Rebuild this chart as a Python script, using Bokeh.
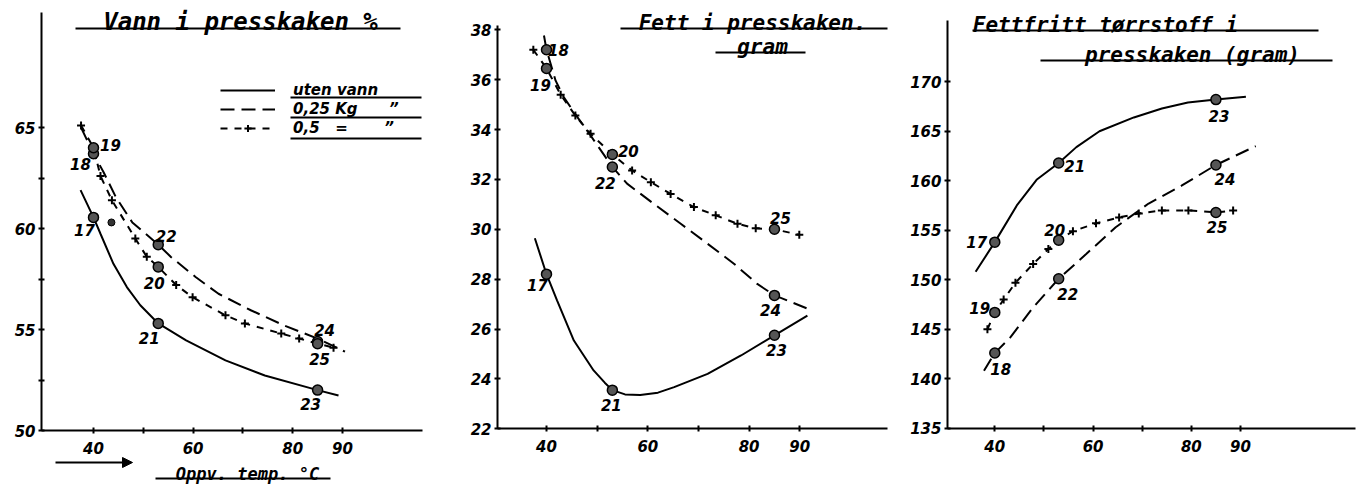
from bokeh.plotting import figure
from bokeh.layouts import row
from bokeh.models import (FixedTicker, Range1d, Label, Arrow, NormalHead,
                          Legend, LegendItem, ColumnDataSource)
from bokeh.core.properties import value
from bokeh.embed import file_html
from bokeh.resources import INLINE

FONT = "DejaVu Sans"
TFONT = "DejaVu Sans Mono"

# ---------------- data ----------------
temps = [40, 53, 85]
labels_uten = ["17", "21", "23"]
labels_025 = ["18", "22", "24"]
labels_05 = ["19", "20", "25"]

x_ticks = [40, 60, 80, 90]
x_minor = [50, 70]

# Panel 1: Vann i presskaken %
vann_uten = [60.55, 55.3, 52.0]
vann_025 = [63.7, 59.2, 54.4]
vann_05 = [64.0, 58.1, 54.3]
vann_extra_x = [43.6]
vann_extra_y = [60.3]
vann_uten_cx = [37.4, 40, 41.4, 44.0, 46.7, 49.4, 53, 58.6, 66.5, 74.4, 85, 89.2]
vann_uten_cy = [61.9, 60.55, 59.74, 58.25, 57.1, 56.2, 55.3, 54.46, 53.47, 52.72, 52.0, 51.73]
vann_025_cx = [37.5, 40, 42.0, 44.5, 47.8, 53, 55.6, 60.5, 65.1, 71.7, 78.3, 85, 90.5]
vann_025_cy = [65.0, 63.7, 62.8, 61.55, 60.3, 59.2, 58.58, 57.6, 56.77, 55.94, 55.2, 54.55, 53.9]
vann_05_cx = [37.5, 40, 41.4, 43.7, 48.4, 50.7, 53, 56.6, 59.9, 66.5, 70.4, 77.7, 81.3, 85, 88.2]
vann_05_cy = [65.1, 64.0, 62.6, 61.4, 59.5, 58.6, 58.1, 57.2, 56.6, 55.7, 55.3, 54.8, 54.55, 54.3, 54.1]
vann_yticks = [50, 55, 60, 65]
vann_yminor = [52.5, 57.5, 62.5]

# Panel 2: Fett i presskaken, gram
fett_uten = [28.2, 23.55, 25.75]
fett_025 = [37.2, 32.5, 27.35]
fett_05 = [36.45, 33.0, 30.0]
fett_uten_cx = [37.7, 40, 42.1, 45.4, 49.3, 51.5, 53, 55.5, 58.5, 62.0, 65.2, 71.8, 78.4, 85, 91.5]
fett_uten_cy = [29.64, 28.2, 27.14, 25.54, 24.34, 23.85, 23.55, 23.38, 23.36, 23.45, 23.67, 24.2, 24.94, 25.75, 26.54]
fett_025_cx = [39.5, 40, 41.8, 43.4, 46.1, 48.7, 53, 55.9, 61.2, 66.5, 71.8, 77.0, 81.6, 85, 92.5]
fett_025_cy = [37.77, 37.2, 35.96, 35.3, 34.5, 33.76, 32.5, 31.83, 31.02, 30.22, 29.42, 28.62, 27.81, 27.35, 26.74]
fett_05_cx = [37.4, 40, 42.8, 45.7, 48.7, 53, 56.9, 60.6, 64.5, 69.1, 73.4, 77.7, 81.3, 85, 89.9]
fett_05_cy = [37.2, 36.45, 35.4, 34.56, 33.83, 33.0, 32.36, 31.89, 31.42, 30.89, 30.56, 30.22, 30.04, 30.0, 29.78]
fett_yticks = [22, 24, 26, 28, 30, 32, 34, 36, 38]

# Panel 3: Fettfritt tørrstoff i presskaken (gram)
ff_uten = [153.8, 161.8, 168.2]
ff_025 = [142.6, 150.1, 161.6]
ff_05 = [146.7, 154.0, 156.8]
ff_uten_cx = [36.1, 40, 44.6, 48.5, 53, 56.6, 61.3, 68.3, 74.0, 79.3, 85, 91.1]
ff_uten_cy = [150.8, 153.8, 157.6, 160.1, 161.8, 163.4, 165.0, 166.4, 167.3, 167.9, 168.2, 168.5]
ff_025_cx = [37.8, 40, 43.2, 47.8, 53, 58.6, 64.6, 71.3, 78.0, 85, 93.1]
ff_025_cy = [140.8, 142.6, 144.2, 147.2, 150.1, 152.6, 155.3, 157.7, 159.5, 161.6, 163.5]
ff_05_cx = [38.5, 40, 41.8, 44.2, 47.8, 50.9, 53, 55.9, 60.6, 65.3, 69.3, 74.0, 79.4, 85, 88.5]
ff_05_cy = [145.0, 146.7, 148.0, 149.7, 151.6, 153.1, 154.0, 154.9, 155.7, 156.3, 156.7, 157.0, 157.0, 156.8, 157.0]
ff_yticks = [135, 140, 145, 150, 155, 160, 165, 170]

legend_labels = ["uten vann", "0,25 Kg      \u201d", "0,5   =       \u201d"]

# ---------------- layout / style (pixels) ----------------
LABEL_OFFSETS = [
    {"uten": [(-9, 13), (-9, 15), (-7, 14)], "025": [(-13, 10), (8, -9), (7, -12)], "05": [(17, -3), (-4, 16), (2, 15)]},
    {"uten": [(-9, 11), (-1, 15), (2, 15)], "025": [(12, 0), (-7, 16), (-4, 15)], "05": [(-6, 17), (16, -3), (6, -11)]},
    {"uten": [(-18, 0), (16, 3), (3, 16)], "025": [(6, 16), (9, 15), (9, 14)], "05": [(-15, -4), (-4, -10), (1, 15)]},
]

# pixel anchors: (value, page pixel) pairs for x and y, axis line extents in page px
CFG = [
    dict(x0=0, w=445, xa=((40, 93), (90, 342)), ya=((50, 430), (65, 127)),
         xline=(41, 422), yline=(430, 12)),
    dict(x0=445, w=455, xa=((40, 546), (90, 799.3)), ya=((22, 428.3), (38, 29.3)),
         xline=(497, 887), yline=(428, 25)),
    dict(x0=900, w=460, xa=((40, 994.3), (90, 1240)), ya=((135, 427.7), (170, 81.3)),
         xline=(947, 1355), yline=(428, 20)),
]
H = 485


def build(i, curves, pts, yticks, yminor):
    c = CFG[i]
    (xv1, xp1), (xv2, xp2) = c["xa"]
    (yv1, yp1), (yv2, yp2) = c["ya"]

    def dx(px):
        return xv1 + (px - xp1) * (xv2 - xv1) / (xp2 - xp1)

    def dy(py):
        return yv1 + (py - yp1) * (yv2 - yv1) / (yp2 - yp1)

    p = figure(width=c["w"], height=H, output_backend="svg", toolbar_location=None,
               title_location=None,
               x_range=Range1d(dx(c["x0"]), dx(c["x0"] + c["w"])),
               y_range=Range1d(dy(H), dy(0)),
               min_border_left=0, min_border_right=0,
               min_border_top=0, min_border_bottom=0)
    p.outline_line_color = None
    p.grid.visible = False
    p.background_fill_color = "white"
    p.border_fill_color = "white"

    # axes placed inside the frame
    p.xaxis.ticker = FixedTicker(ticks=x_ticks, minor_ticks=x_minor)
    p.yaxis.ticker = FixedTicker(ticks=yticks, minor_ticks=yminor)
    p.xaxis.fixed_location = dy(c["yline"][0])
    p.xaxis.bounds = (dx(c["xline"][0]), dx(c["xline"][1]))
    p.yaxis.fixed_location = dx(c["xline"][0])
    p.yaxis.bounds = (dy(c["yline"][0]), dy(c["yline"][1]))
    for ax in (p.xaxis[0], p.yaxis[0]):
        ax.axis_line_width = 2
        ax.axis_line_color = "black"
        ax.major_tick_in = 3
        ax.major_tick_out = 3
        ax.major_tick_line_width = 2
        ax.minor_tick_in = 3
        ax.minor_tick_out = 3
        ax.minor_tick_line_width = 2
        ax.major_label_text_font = FONT
        ax.major_label_text_font_style = "bold italic"
        ax.major_label_text_font_size = "15px"
        ax.major_label_text_color = "black"
    p.xaxis.major_label_standoff = 8
    p.yaxis.major_label_standoff = 3

    # curves
    (ux, uy), (ax_, ay), (bx, by) = curves
    r_u = p.line(ux, uy, line_color="black", line_width=2)
    r_a = p.line(ax_, ay, line_color="black", line_width=2, line_dash="14 7")
    r_b = p.line(bx, by, line_color="black", line_width=2, line_dash="7 7")
    r_bm = p.scatter(bx, by, marker="cross", size=8, line_color="black", line_width=2)

    # points + labels
    offs = LABEL_OFFSETS[i]
    for key, (yy, labs) in pts.items():
        p.scatter(temps, yy, marker="circle", size=10, fill_color="#555555",
                  line_color="black", line_width=1.5)
        src = ColumnDataSource(dict(x=temps, y=yy, t=labs,
                                    xo=[o[0] for o in offs[key]],
                                    yo=[o[1] for o in offs[key]]))
        p.text(x="x", y="y", text="t", x_offset="xo", y_offset="yo", source=src,
               text_font=value(FONT), text_font_style="bold italic",
               text_font_size="15px", text_align="center", text_baseline="middle",
               text_color="black")

    def title(txt, cx, uy, u0, u1, size=21, font=TFONT):
        p.add_layout(Label(x=dx(cx), y=dy(uy - 0.28 * size), text=txt, text_align="center",
                           text_baseline="middle", text_font=font,
                           text_font_style="bold italic", text_font_size=f"{size}px",
                           text_color="black"))
        p.add_layout(Arrow(start=None, end=None, x_start=dx(u0), y_start=dy(uy),
                           x_end=dx(u1), y_end=dy(uy), line_width=2, line_color="black"))

    return p, title, dx, dy, (r_u, r_a, r_b, r_bm)


# Panel 1
p1, t1, dx1, dy1, rr1 = build(
    0,
    [(vann_uten_cx, vann_uten_cy), (vann_025_cx, vann_025_cy), (vann_05_cx, vann_05_cy)],
    {"uten": (vann_uten, labels_uten), "025": (vann_025, labels_025), "05": (vann_05, labels_05)},
    vann_yticks, vann_yminor)
p1.scatter(vann_extra_x, vann_extra_y, marker="circle", size=7, fill_color="#333333", line_color="black")
t1("Vann i presskaken %", 240, 28, 75, 400, size=24)
t1("Oppv. temp. \u00b0C", 247, 478, 155, 330, size=17)
p1.add_layout(Arrow(end=NormalHead(size=10, fill_color="black", line_color="black"),
                    x_start=dx1(55), y_start=dy1(462), x_end=dx1(132), y_end=dy1(462),
                    line_width=2, line_color="black"))
legend = Legend(items=[LegendItem(label=legend_labels[0], renderers=[rr1[0]]),
                       LegendItem(label=legend_labels[1], renderers=[rr1[1]]),
                       LegendItem(label=legend_labels[2], renderers=[rr1[2], rr1[3]])],
                location=(220, H - 137), glyph_width=55, glyph_height=18, label_height=18,
                spacing=1, padding=0, margin=0, label_standoff=18,
                label_text_font=FONT, label_text_font_style="bold italic",
                label_text_font_size="15px", label_text_color="black",
                background_fill_alpha=0, border_line_alpha=0)
p1.add_layout(legend)
for yy in (97, 117, 138):
    p1.add_layout(Arrow(start=None, end=None, x_start=dx1(290), y_start=dy1(yy),
                        x_end=dx1(421), y_end=dy1(yy), line_width=2, line_color="black"))

# Panel 2
p2, t2, dx2, dy2, rr2 = build(
    1,
    [(fett_uten_cx, fett_uten_cy), (fett_025_cx, fett_025_cy), (fett_05_cx, fett_05_cy)],
    {"uten": (fett_uten, labels_uten), "025": (fett_025, labels_025), "05": (fett_05, labels_05)},
    fett_yticks, [])
t2("Fett i presskaken.", 752, 28, 620, 887)
t2("gram", 762, 52, 715, 805)

# Panel 3
p3, t3, dx3, dy3, rr3 = build(
    2,
    [(ff_uten_cx, ff_uten_cy), (ff_025_cx, ff_025_cy), (ff_05_cx, ff_05_cy)],
    {"uten": (ff_uten, labels_uten), "025": (ff_025, labels_025), "05": (ff_05, labels_05)},
    ff_yticks, [])
t3("Fettfritt t\u00f8rrstoff i", 1105, 30, 972, 1318)
t3("presskaken (gram)", 1192, 60, 1040, 1332)

layout = row(p1, p2, p3)
open("out.html", "w").write(file_html(layout, INLINE))
